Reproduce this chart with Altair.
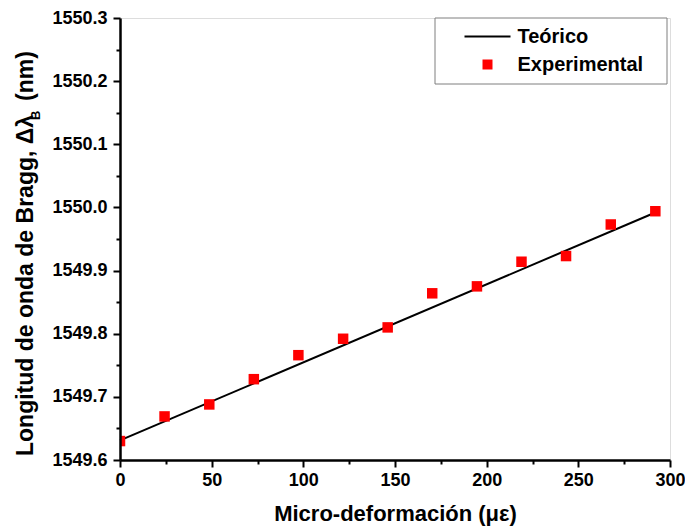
import altair as alt
import pandas as pd

# Measured points: strain (micro-strain) vs. Bragg wavelength (nm)
strain = [0.0, 24.3, 48.7, 73.0, 97.3, 121.7, 146.0, 170.3, 194.7, 219.0, 243.3, 267.7, 292.0]
wavelength = [1549.630, 1549.669, 1549.688, 1549.728, 1549.766, 1549.792, 1549.810,
              1549.864, 1549.875, 1549.914, 1549.923, 1549.973, 1549.994]

# Theoretical linear response (end points)
theory_strain = [0.0, 292.0]
theory_wavelength = [1549.631, 1549.992]

series = ["Teórico", "Experimental"]
series_colors = ["black", "red"]

x_ticks = [0, 25, 50, 75, 100, 125, 150, 175, 200, 225, 250, 275, 300]
y_ticks = [1549.60, 1549.65, 1549.70, 1549.75, 1549.80, 1549.85, 1549.90, 1549.95,
           1550.00, 1550.05, 1550.10, 1550.15, 1550.20, 1550.25, 1550.30]

x_title = "Micro-deformación (με)"
y_title_main = "Longitud de onda de Bragg, Δλ"
y_title_sub = "B"
y_title_unit = "(nm)"

FONT = "Liberation Sans"
W, H = 550, 442

points_df = pd.DataFrame({"strain": strain, "wavelength": wavelength,
                          "serie": ["Experimental"] * len(strain)})
theory_df = pd.DataFrame({"strain": theory_strain, "wavelength": theory_wavelength})

x_scale = alt.Scale(domain=[0, 300], nice=False, zero=False)
y_scale = alt.Scale(domain=[1549.6, 1550.3], nice=False, zero=False)

axis_common = dict(
    grid=False, domainColor="black", domainWidth=2.5, tickColor="black", tickWidth=2,
    labelFont=FONT, labelFontSize=18, labelFontWeight="bold", labelColor="black",
    labelFlush=False, labelOverlap=False,
    titleFont=FONT, titleFontSize=22, titleFontWeight="bold", titleColor="black",
    zindex=2,
)

x_axis = alt.Axis(
    values=x_ticks,
    labelExpr="datum.value % 50 == 0 ? format(datum.value, 'd') : ''",
    tickSize={"condition": {"test": "datum.value % 50 == 0", "value": 7}, "value": 4},
    labelPadding=4, title=x_title, titlePadding=14, **axis_common,
)
y_axis = alt.Axis(
    values=y_ticks,
    labelExpr="abs(round(datum.value * 100) % 10) < 0.5 ? format(datum.value, '.1f') : ''",
    tickSize={"condition": {"test": "abs(round(datum.value * 100) % 10) < 0.5", "value": 7},
              "value": 4},
    labelPadding=6, title=None, **axis_common,
)

# Line path drawn as a thin filled bar so it works as a legend symbol
line_symbol = "M-4.6,-0.2H4.6V0.2H-4.6Z"
legend = alt.Legend(
    # transparent title on the right only widens the legend frame
    title="x", titleOrient="right", titleOpacity=0, titleFontSize=10, titlePadding=8,
    orient="none", legendX=314.5, legendY=-0.5,
    strokeColor="#7f7f7f", fillColor="white", padding=9,
    symbolSize=100, symbolOffset=34, labelOffset=20, rowPadding=8,
    labelFont=FONT, labelFontSize=20, labelFontWeight="bold", labelColor="black",
)

theory = alt.Chart(theory_df).mark_line(color="black", strokeWidth=2).encode(
    x=alt.X("strain:Q", scale=x_scale, axis=x_axis),
    y=alt.Y("wavelength:Q", scale=y_scale, axis=y_axis),
)

points = alt.Chart(points_df).mark_point(
    filled=True, size=110, opacity=1, clip=True
).encode(
    x=alt.X("strain:Q", scale=x_scale, axis=x_axis),
    y=alt.Y("wavelength:Q", scale=y_scale, axis=y_axis),
    color=alt.Color("serie:N", scale=alt.Scale(domain=series, range=series_colors), legend=legend),
    shape=alt.Shape("serie:N", scale=alt.Scale(domain=series, range=[line_symbol, "square"]),
                    legend=legend),
)

title_style = dict(angle=270, baseline="middle", font=FONT, fontWeight="bold", color="black")
y_title_a = alt.Chart(pd.DataFrame({"t": [y_title_main]})).mark_text(
    align="left", fontSize=23, **title_style
).encode(x=alt.value(-94), y=alt.value(438), text="t:N")
y_title_b = alt.Chart(pd.DataFrame({"t": [y_title_sub]})).mark_text(
    align="left", fontSize=13, **title_style
).encode(x=alt.value(-84), y=alt.value(102), text="t:N")
y_title_c = alt.Chart(pd.DataFrame({"t": [y_title_unit]})).mark_text(
    align="left", fontSize=23, **title_style
).encode(x=alt.value(-94), y=alt.value(83), text="t:N")

chart = alt.layer(theory, points, y_title_a, y_title_b, y_title_c).properties(
    width=W, height=H,
    autosize=alt.AutoSizeParams(type="none"),
    padding={"left": 120, "top": 18, "right": 15, "bottom": 69},
).configure_view(stroke=None).configure(background="white")

chart.save("out.html", embed_options={"renderer": "svg", "actions": False})
